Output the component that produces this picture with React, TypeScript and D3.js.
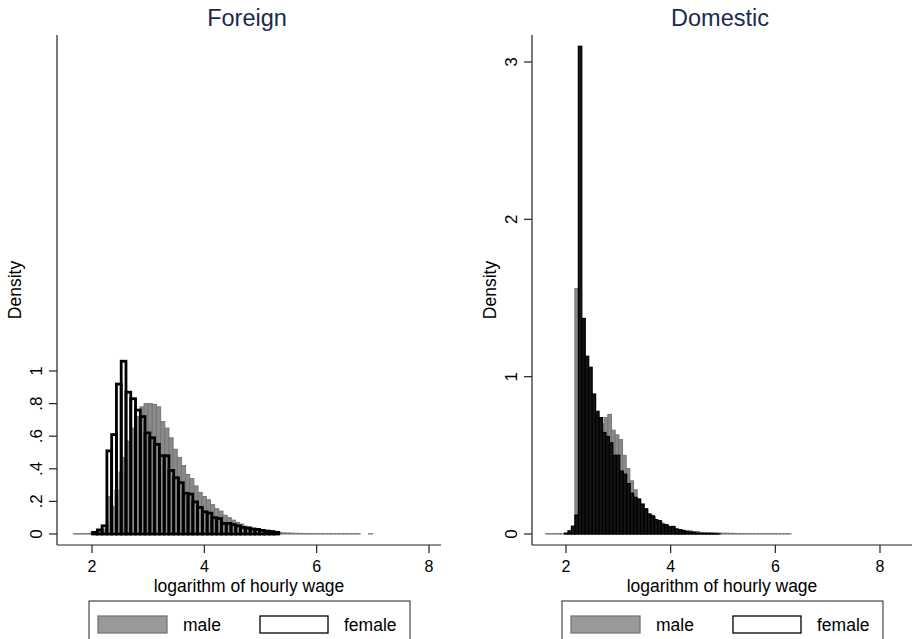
import React from 'react';
import * as d3 from 'd3';

// x axis ticks shared by both panels
const xTicks = [2, 4, 6, 8];

const foreignYTicks = [0, 0.2, 0.4, 0.6, 0.8, 1];
const foreignYLabels = ['0', '.2', '.4', '.6', '.8', '1'];
const domesticYTicks = [0, 1, 2, 3];
const domesticYLabels = ['0', '1', '2', '3'];

// Foreign: histogram bins (first bin start, bin width, densities)
const foreignMaleStart = 1.668;
const foreignMaleWidth = 0.074;
const foreignMale = [
  0.002, 0.002, 0.002, 0.003, 0.006, 0.01, 0.014, 0.03,
  0.23, 0.17, 0.27, 0.38, 0.47, 0.57, 0.65, 0.72, 0.78, 0.8, 0.8, 0.795, 0.78,
  0.69, 0.65, 0.59, 0.52, 0.47, 0.42, 0.365, 0.34, 0.295, 0.255,
  0.23, 0.21, 0.18, 0.155, 0.14, 0.115, 0.1, 0.085, 0.071, 0.061,
  0.048, 0.045, 0.036, 0.032, 0.022, 0.02, 0.015, 0.011, 0.009, 0.007,
  0.006, 0.005, 0.004, 0.004, 0.003, 0.003, 0.002, 0.002, 0.002, 0.002,
  0.002, 0.002, 0.002, 0.002, 0.002, 0.002, 0.002, 0.002, 0, 0, 0.002,
];
const foreignFemaleStart = 2.01;
const foreignFemaleWidth = 0.085;
const foreignFemale = [
  0.01, 0.025, 0.05, 0.51, 0.61, 0.92, 1.06, 0.87, 0.83, 0.76,
  0.72, 0.62, 0.59, 0.55, 0.48, 0.48, 0.39, 0.345, 0.315, 0.25,
  0.245, 0.197, 0.163, 0.136, 0.128, 0.1, 0.095, 0.065, 0.065, 0.057,
  0.05, 0.04, 0.035, 0.03, 0.028, 0.022, 0.018, 0.015, 0.01,
];

// Domestic
const domesticMaleStart = 1.61;
const domesticMaleWidth = 0.07;
const domesticMale = [
  0.002, 0.002, 0.002, 0.002, 0.002, 0.005, 0.01, 0.03,
  1.56, 1.1, 0.98, 0.9, 0.82, 0.75, 0.7, 0.7, 0.74, 0.76, 0.66, 0.63,
  0.6, 0.5, 0.416, 0.338, 0.281, 0.222, 0.19, 0.159, 0.127, 0.11,
  0.085, 0.075, 0.057, 0.05, 0.042, 0.032, 0.028, 0.025, 0.021, 0.021,
  0.015, 0.015, 0.01, 0.01, 0.009, 0.008, 0.007, 0.006, 0.005, 0.005,
  0.004, 0.004, 0.003, 0.003, 0.003, 0.002, 0.002, 0.002, 0.002, 0.002,
  0.002, 0.002, 0.002, 0.002, 0.002, 0.002, 0.002,
];
const domesticFemaleStart = 1.972;
const domesticFemaleWidth = 0.066;
const domesticFemale = [
  0.005, 0.02, 0.05, 0.12, 3.1,
  1.37, 1.13, 1.06, 0.89, 0.78, 0.74, 0.645, 0.62, 0.58, 0.5,
  0.5, 0.4, 0.38, 0.32, 0.26, 0.233, 0.222, 0.19, 0.16, 0.127,
  0.116, 0.091, 0.085, 0.063, 0.059, 0.045, 0.048, 0.032, 0.027, 0.021,
  0.015, 0.011, 0.011, 0.006, 0.004, 0.003, 0.003, 0.002, 0.002, 0.001,
];

const legendLabels = ['male', 'female'];

const FONT = '"Liberation Sans", Arial, Helvetica, sans-serif';
const TITLE_COLOR = '#1b2a4e';
const MALE_FILL = '#8a8a8a';
const MALE_STROKE = '#767676';

const Bars = ({ start, width, values, x, y, fill, stroke, sw }) => (
  <g>
    {values.map((v, i) => {
      if (v <= 0) return null;
      const x0 = x(start + i * width);
      const x1 = x(start + (i + 1) * width);
      return (
        <rect key={i} x={x0} y={y(v)} width={x1 - x0} height={y(0) - y(v)}
          fill={fill} stroke={stroke} strokeWidth={sw} />
      );
    })}
  </g>
);

const Panel = (p) => {
  const { title, axisX, axisRight, x2, x8, yTicks, yLabels, yTop, male, female, femaleFill, femaleSw } = p;
  const top = 35, bottom = 545;
  const x = d3.scaleLinear().domain([2, 8]).range([x2, x8]);
  const y = d3.scaleLinear().domain([0, yTicks[yTicks.length - 1]]).range([534, yTop]);
  const cx = (axisX + axisRight) / 2;
  const lx = cx - 160;

  return (
    <g fontFamily={FONT}>
      <text x={cx - 2} y={26} textAnchor="middle" fontSize={23.5} fill={TITLE_COLOR}>{title}</text>

      <Bars {...male} x={x} y={y} fill={MALE_FILL} stroke={MALE_STROKE} sw={1} />
      <Bars {...female} x={x} y={y} fill={femaleFill} stroke="#000" sw={femaleSw} />

      {/* y axis */}
      <line x1={axisX} x2={axisX} y1={top} y2={bottom} stroke="#222" strokeWidth={1.2} />
      {yTicks.map((t, i) => (
        <g key={t}>
          <line x1={axisX - 8} x2={axisX} y1={y(t)} y2={y(t)} stroke="#222" strokeWidth={1.2} />
          <text transform={`translate(${axisX - 15},${y(t)}) rotate(-90)`} textAnchor="middle"
            fontSize={17}>{yLabels[i]}</text>
        </g>
      ))}
      <text transform={`translate(${axisX - 36},${(top + bottom) / 2}) rotate(-90)`} textAnchor="middle"
        fontSize={17.5}>Density</text>

      {/* x axis */}
      <line x1={axisX} x2={axisRight} y1={bottom} y2={bottom} stroke="#222" strokeWidth={1.2} />
      {xTicks.map((t) => (
        <g key={t}>
          <line x1={x(t)} x2={x(t)} y1={bottom} y2={bottom + 8} stroke="#222" strokeWidth={1.2} />
          <text x={x(t)} y={572} textAnchor="middle" fontSize={16}>{t}</text>
        </g>
      ))}
      <text x={cx} y={592} textAnchor="middle" fontSize={17.5}>logarithm of hourly wage</text>

      {/* legend */}
      <rect x={lx} y={601} width={321} height={45} fill="#fff" stroke="#222" />
      <rect x={lx + 9} y={616} width={69} height={17} fill="#999" stroke="#777" strokeWidth={1.3} />
      <text x={lx + 94} y={631} fontSize={17.5}>{legendLabels[0]}</text>
      <rect x={lx + 171} y={616} width={68} height={17} fill="#fff" stroke="#000" strokeWidth={1.3} />
      <text x={lx + 255} y={631} fontSize={17.5}>{legendLabels[1]}</text>
    </g>
  );
};

export default function App() {
  return (
    <svg width={914} height={639} style={{ position: 'absolute', left: 0, top: 0, background: '#fff' }}>
      <rect width={914} height={639} fill="#fff" />
      <Panel title="Foreign" axisX={57} axisRight={441} x2={92} x8={429}
        yTicks={foreignYTicks} yLabels={foreignYLabels} yTop={371}
        male={{ start: foreignMaleStart, width: foreignMaleWidth, values: foreignMale }}
        female={{ start: foreignFemaleStart, width: foreignFemaleWidth, values: foreignFemale }}
        femaleFill="none" femaleSw={2.8} />
      <Panel title="Domestic" axisX={532} axisRight={912} x2={566} x8={880}
        yTicks={domesticYTicks} yLabels={domesticYLabels} yTop={62}
        male={{ start: domesticMaleStart, width: domesticMaleWidth, values: domesticMale }}
        female={{ start: domesticFemaleStart, width: domesticFemaleWidth, values: domesticFemale }}
        femaleFill="#141414" femaleSw={1.2} />
    </svg>
  );
}
